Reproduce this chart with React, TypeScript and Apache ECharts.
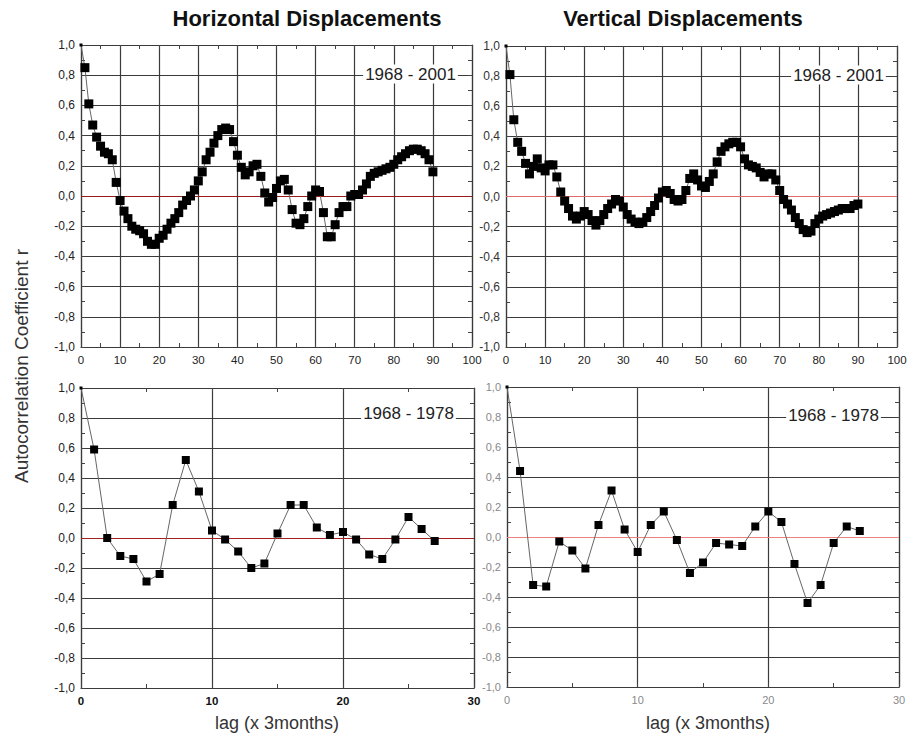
import React, { useEffect, useRef } from "react";
import * as echarts from "echarts";

// Horizontal displacements, 1968 - 2001, lag 0..90
const hLong = [
  1.0, 0.85, 0.61, 0.47, 0.39, 0.33, 0.29, 0.28, 0.24, 0.09,
  -0.03, -0.1, -0.15, -0.2, -0.22, -0.23, -0.25, -0.3, -0.32, -0.32,
  -0.28, -0.26, -0.22, -0.18, -0.15, -0.11, -0.06, -0.03, 0.0, 0.04,
  0.1, 0.16, 0.24, 0.29, 0.35, 0.4, 0.44, 0.45, 0.44, 0.36,
  0.27, 0.19, 0.14, 0.16, 0.2, 0.21, 0.13, 0.02, -0.04, -0.01,
  0.05, 0.1, 0.11, 0.04, -0.09, -0.18, -0.19, -0.15, -0.07, 0.0,
  0.04, 0.03, -0.11, -0.27, -0.27, -0.19, -0.11, -0.07, -0.07, 0.0,
  0.01, 0.01, 0.04, 0.08, 0.13, 0.15, 0.16, 0.17, 0.18, 0.19,
  0.21, 0.24, 0.26, 0.28, 0.3, 0.31, 0.31, 0.3, 0.28, 0.24,
  0.16,
];

// Vertical displacements, 1968 - 2001, lag 0..90
const vLong = [
  1.0, 0.81, 0.51, 0.36, 0.3, 0.22, 0.15, 0.2, 0.25, 0.19,
  0.17, 0.21, 0.21, 0.13, 0.03, -0.03, -0.08, -0.13, -0.15, -0.13,
  -0.1, -0.12, -0.16, -0.19, -0.16, -0.12, -0.08, -0.05, -0.02, -0.03,
  -0.07, -0.12, -0.15, -0.17, -0.18, -0.17, -0.14, -0.1, -0.06, -0.01,
  0.03, 0.04, 0.02, -0.02, -0.03, -0.02, 0.04, 0.12, 0.15, 0.11,
  0.07, 0.06, 0.1, 0.15, 0.23, 0.3, 0.33, 0.35, 0.36, 0.36,
  0.33, 0.25, 0.21, 0.2, 0.19, 0.16, 0.13, 0.15, 0.15, 0.11,
  0.04, -0.02, -0.05, -0.09, -0.14, -0.18, -0.22, -0.24, -0.23, -0.18,
  -0.15, -0.13, -0.12, -0.11, -0.1, -0.09, -0.08, -0.08, -0.08, -0.06,
  -0.05,
];

// Horizontal displacements, 1968 - 1978, lag 0..27
const hShort = [
  1.0, 0.59, 0.0, -0.12, -0.14, -0.29, -0.24, 0.22, 0.52, 0.31,
  0.05, -0.01, -0.09, -0.2, -0.17, 0.03, 0.22, 0.22, 0.07, 0.02,
  0.04, -0.01, -0.11, -0.14, -0.01, 0.14, 0.06, -0.02,
];

// Vertical displacements, 1968 - 1978, lag 0..27
const vShort = [
  1.0, 0.44, -0.32, -0.33, -0.03, -0.09, -0.21, 0.08, 0.31, 0.05,
  -0.1, 0.08, 0.17, -0.02, -0.24, -0.17, -0.04, -0.05, -0.06, 0.07,
  0.17, 0.1, -0.18, -0.44, -0.32, -0.04, 0.07, 0.04,
];

const titles = ["Horizontal Displacements", "Vertical Displacements"];
const yTitle = "Autocorrelation Coefficient r";
const xTitle = "lag (x 3months)";
const periodLong = "1968 - 2001";
const periodShort = "1968 - 1978";

const FONT = "'Liberation Sans', Arial, Helvetica, sans-serif";

const fmtY = (v: number) => v.toFixed(1).replace(".", ",");

export default function App() {
  const ref = useRef<HTMLDivElement>(null);

  useEffect(() => {
    if (!ref.current) return;
    const chart = echarts.init(ref.current, undefined, { renderer: "svg" });

    const grids = [
      { left: 81, top: 45, width: 391, height: 302 },
      { left: 506, top: 46, width: 391, height: 301 },
      { left: 81, top: 388, width: 393, height: 300 },
      { left: 507, top: 387, width: 392, height: 300 },
    ];

    const panels = [
      { data: hLong, max: 100, zero: "#9a1a1a", xl: { color: "#222", fontSize: 11.5, fontWeight: "normal" }, yl: { color: "#222", fontSize: 12 }, size: 9 },
      { data: vLong, max: 100, zero: "#e06a6a", xl: { color: "#222", fontSize: 11.5, fontWeight: "normal" }, yl: { color: "#333", fontSize: 12 }, size: 9 },
      { data: hShort, max: 30, zero: "#a52020", xl: { color: "#111", fontSize: 11.5, fontWeight: "bold" }, yl: { color: "#222", fontSize: 12 }, size: 8 },
      { data: vShort, max: 30, zero: "#ee8080", xl: { color: "#8a8a8a", fontSize: 11, fontWeight: "normal" }, yl: { color: "#888", fontSize: 11 }, size: 8 },
    ];

    const gridLine = { show: true, lineStyle: { color: "#3a3a3a", width: 1.2 } };
    const axisLine = { show: true, onZero: false, lineStyle: { color: "#3a3a3a", width: 1.2 } };
    const tickStyle = { color: "#444", width: 1 };

    const xAxis: any[] = [];
    const yAxis: any[] = [];
    const series: any[] = [];

    panels.forEach((p, i) => {
      const base = {
        type: "value",
        gridIndex: i,
        min: 0,
        max: p.max,
        interval: 10,
        axisLine,
        axisTick: { show: true, inside: true, length: 4, lineStyle: tickStyle },
        minorTick: { show: true, splitNumber: 2, length: 4, lineStyle: tickStyle },
      };
      xAxis.push({
        ...base,
        position: "bottom",
        splitLine: gridLine,
        axisLabel: { show: true, margin: 7, fontFamily: FONT, ...p.xl },
      });
      xAxis.push({
        ...base,
        position: "top",
        splitLine: { show: false },
        axisLabel: { show: false },
      });
      const ybase = {
        type: "value",
        gridIndex: i,
        min: -1,
        max: 1,
        interval: 0.2,
        axisLine,
        axisTick: { show: true, inside: true, length: 4, lineStyle: tickStyle },
        minorTick: { show: true, splitNumber: 2, length: 4, lineStyle: tickStyle },
      };
      yAxis.push({
        ...ybase,
        position: "left",
        splitLine: gridLine,
        axisLabel: { show: true, margin: 6, fontFamily: FONT, formatter: fmtY, ...p.yl },
      });
      yAxis.push({
        ...ybase,
        position: "right",
        splitLine: { show: false },
        axisLabel: { show: false },
      });

      series.push({
        type: "line",
        xAxisIndex: i * 2,
        yAxisIndex: i * 2,
        data: p.data.map((v, k) =>
          k === 0 ? { value: [k, v], symbolSize: 3 } : { value: [k, v] }
        ),
        symbol: "rect",
        symbolSize: p.size,
        showAllSymbol: true,
        itemStyle: { color: "#000" },
        lineStyle: { color: "#666", width: 1 },
        z: 5,
        markLine: {
          silent: true,
          symbol: "none",
          label: { show: false },
          lineStyle: { color: p.zero, width: 1.2, type: "solid" },
          data: [{ yAxis: 0 }],
          z: 3,
        },
      });
    });

    const periodLabel = (text: string, x: number, y: number) => ({
      type: "text",
      x,
      y,
      z: 100,
      style: {
        text,
        font: `17px ${FONT}`,
        fill: "#222",
        textAlign: "center",
        textVerticalAlign: "middle",
        backgroundColor: "#fff",
        padding: [1, 2, 1, 2],
      },
    });

    chart.setOption({
      animation: false,
      backgroundColor: "#fff",
      grid: grids.map((g) => ({ ...g, show: false })),
      xAxis,
      yAxis,
      series,
      graphic: [
        {
          type: "text",
          x: 307,
          y: 18.5,
          style: { text: titles[0], font: `bold 22px ${FONT}`, fill: "#111", textAlign: "center", textVerticalAlign: "middle" },
        },
        {
          type: "text",
          x: 683,
          y: 18.5,
          style: { text: titles[1], font: `bold 22px ${FONT}`, fill: "#111", textAlign: "center", textVerticalAlign: "middle" },
        },
        {
          type: "text",
          x: 21,
          y: 366,
          rotation: Math.PI / 2,
          style: { text: yTitle, font: `19px ${FONT}`, fill: "#333", textAlign: "center", textVerticalAlign: "middle" },
        },
        {
          type: "text",
          x: 277,
          y: 723,
          style: { text: xTitle, font: `18px ${FONT}`, fill: "#333", textAlign: "center", textVerticalAlign: "middle" },
        },
        {
          type: "text",
          x: 708,
          y: 723,
          style: { text: xTitle, font: `18px ${FONT}`, fill: "#333", textAlign: "center", textVerticalAlign: "middle" },
        },
        periodLabel(periodLong, 410.5, 74),
        periodLabel(periodLong, 838.5, 75),
        periodLabel(periodShort, 408.5, 413),
        periodLabel(periodShort, 833.5, 415),
      ],
    });

    return () => chart.dispose();
  }, []);

  return (
    <div
      ref={ref}
      style={{ position: "fixed", left: 0, top: 0, width: 914, height: 736, background: "#fff" }}
    />
  );
}
